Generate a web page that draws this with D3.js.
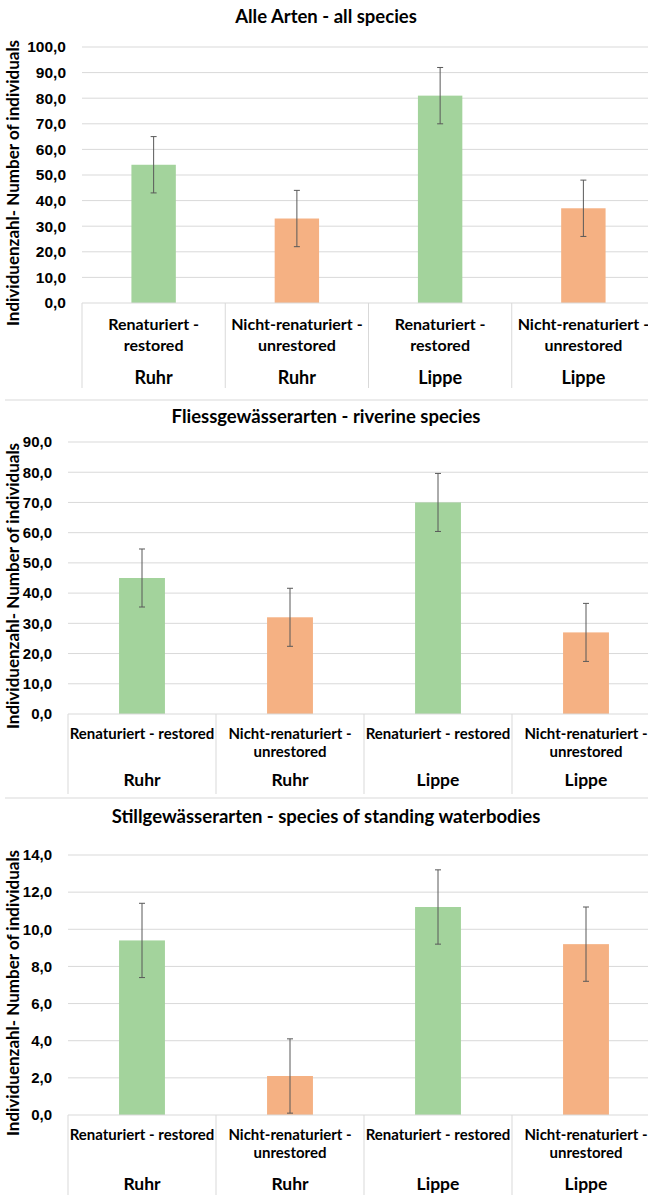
<!DOCTYPE html>
<html>
<head>
<meta charset="utf-8">
<script src="https://cdn.jsdelivr.net/npm/d3@7"></script>
<style>
  body { margin: 0; background: #fff; }
  svg { display: block; font-family: Lato, "Open Sans", sans-serif; font-weight: bold; }
</style>
</head>
<body>
<svg id="chart" width="648" height="1198"></svg>
<script>
// categories (two-level axis)
const treatments = ["Renaturiert - restored", "Nicht-renaturiert - unrestored", "Renaturiert - restored", "Nicht-renaturiert - unrestored"];
const rivers = ["Ruhr", "Ruhr", "Lippe", "Lippe"];
const treatmentKind = ["restored", "unrestored", "restored", "unrestored"];

// series values + error bar half widths
const allValues = [54, 33, 81, 37];
const allErrors = [11, 11, 11, 11];
const riverineValues = [45, 32, 70, 27];
const riverineErrors = [9.6, 9.6, 9.6, 9.6];
const standingValues = [9.4, 2.1, 11.2, 9.2];
const standingErrors = [2, 2, 2, 2];

// tick labels
const allTicks = [0, 10, 20, 30, 40, 50, 60, 70, 80, 90, 100];
const riverineTicks = [0, 10, 20, 30, 40, 50, 60, 70, 80, 90];
const standingTicks = [0, 2, 4, 6, 8, 10, 12, 14];

const titles = ["Alle Arten - all species", "Fliessgewässerarten - riverine species", "Stillgewässerarten - species of standing waterbodies"];
const yTitle = "Individuenzahl- Number of individuals";

const COLORS = { restored: "#a3d39c", unrestored: "#f5b183" };
const GRID = "#d9d9d9";
const fmt = v => v.toFixed(1).replace(".", ",");

const svg = d3.select("#chart");

const panels = [
  { title: titles[0], values: allValues, errors: allErrors, ticks: allTicks,
    titleY: 18, top: 47, axisY: 303, left: 82, right: 655,
    tickFont: 15.5, labelFont: 16, groupFont: 18, lineH: 21, line1: 23, groupDy: 76, sepBottom: 388, wrapW: 128 },
  { title: titles[1], values: riverineValues, errors: riverineErrors, ticks: riverineTicks,
    titleY: 418, top: 442, axisY: 714, left: 68, right: 660,
    tickFont: 15, labelFont: 15, groupFont: 17.5, lineH: 18.5, line1: 20.5, groupDy: 68, sepBottom: 794, wrapW: 152 },
  { title: titles[2], values: standingValues, errors: standingErrors, ticks: standingTicks,
    titleY: 818, top: 855, axisY: 1115, left: 68, right: 660,
    tickFont: 15, labelFont: 15, groupFont: 17.5, lineH: 18.5, line1: 20.7, groupDy: 70.5, sepBottom: 1195, wrapW: 152 }
];

// dividers between the three charts
[400, 798].forEach(function (y) {
  svg.append("line").attr("x1", 5).attr("x2", 648).attr("y1", y).attr("y2", y)
    .attr("stroke", GRID).attr("stroke-width", 1.2);
});

// split on spaces but keep a lone "-" glued to the word before it
function tokens(text) {
  var out = [];
  text.split(" ").forEach(function (w) {
    if (w === "-" && out.length) out[out.length - 1] += " -";
    else out.push(w);
  });
  return out;
}

function wrapLines(text, maxW, fontSize) {
  var probe = svg.append("text").attr("font-size", fontSize);
  var lines = [], cur = "";
  tokens(text).forEach(function (w) {
    var test = cur ? cur + " " + w : w;
    probe.text(test);
    if (cur && probe.node().getComputedTextLength() > maxW) {
      lines.push(cur);
      cur = w;
    } else {
      cur = test;
    }
  });
  lines.push(cur);
  probe.remove();
  return lines;
}

panels.forEach(function (p) {
  var g = svg.append("g");
  var idx = d3.range(treatments.length);
  var yMax = p.ticks[p.ticks.length - 1];

  var y = d3.scaleLinear().domain([0, yMax]).range([p.axisY, p.top]);
  var cell = d3.scaleBand().domain(idx).range([p.left, p.right]).padding(0);
  var x = d3.scaleBand().domain(idx).range([p.left, p.right]).paddingInner(0.69).paddingOuter(0.345);

  // title
  g.append("text")
    .attr("x", 326).attr("y", p.titleY)
    .attr("text-anchor", "middle").attr("dominant-baseline", "middle")
    .attr("font-size", 18.5).attr("fill", "#000")
    .text(p.title);

  // gridlines
  g.append("g").selectAll("line").data(p.ticks.slice(1)).join("line")
    .attr("x1", p.left).attr("x2", 648)
    .attr("y1", d => y(d)).attr("y2", d => y(d))
    .attr("stroke", GRID).attr("stroke-width", 1);

  // y axis labels
  var yAxis = d3.axisLeft(y).tickValues(p.ticks).tickFormat(fmt).tickSize(0).tickPadding(16);
  var ya = g.append("g").attr("transform", "translate(" + p.left + ",0)").call(yAxis);
  ya.select(".domain").remove();
  ya.selectAll("text").attr("font-size", p.tickFont).attr("font-family", null).attr("fill", "#000");

  // y title
  g.append("text")
    .attr("transform", "translate(15," + ((p.top + p.axisY) / 2 + 8) + ") rotate(-90)")
    .attr("text-anchor", "middle").attr("dominant-baseline", "middle")
    .attr("font-size", 17).attr("fill", "#000")
    .text(yTitle);

  // bars
  g.append("g").selectAll("rect").data(idx).join("rect")
    .attr("x", d => x(d)).attr("width", x.bandwidth())
    .attr("y", d => y(p.values[d])).attr("height", d => p.axisY - y(p.values[d]))
    .attr("fill", d => COLORS[treatmentKind[d]]);

  // error bars
  var eb = g.append("g").attr("stroke", "#595959").attr("stroke-width", 1);
  idx.forEach(function (d) {
    var cx = x(d) + x.bandwidth() / 2;
    var lo = y(p.values[d] - p.errors[d]), hi = y(p.values[d] + p.errors[d]);
    eb.append("line").attr("x1", cx).attr("x2", cx).attr("y1", lo).attr("y2", hi);
    eb.append("line").attr("x1", cx - 3).attr("x2", cx + 3).attr("y1", lo).attr("y2", lo);
    eb.append("line").attr("x1", cx - 3).attr("x2", cx + 3).attr("y1", hi).attr("y2", hi);
  });

  // category axis line
  g.append("line").attr("x1", p.left).attr("x2", 648)
    .attr("y1", p.axisY).attr("y2", p.axisY)
    .attr("stroke", GRID).attr("stroke-width", 1.2);

  // category separators
  g.append("g").selectAll("line").data(idx).join("line")
    .attr("x1", d => cell(d)).attr("x2", d => cell(d))
    .attr("y1", p.axisY).attr("y2", p.sepBottom)
    .attr("stroke", GRID).attr("stroke-width", 1);

  // category labels (level 1, wrapped)
  idx.forEach(function (d) {
    var cx = cell(d) + cell.bandwidth() / 2;
    var lines = wrapLines(treatments[d], p.wrapW, p.labelFont);
    var t = g.append("text")
      .attr("text-anchor", "middle").attr("dominant-baseline", "middle")
      .attr("font-size", p.labelFont).attr("fill", "#000");
    lines.forEach(function (ln, i) {
      t.append("tspan").attr("x", cx).attr("y", p.axisY + p.line1 + i * p.lineH).text(ln);
    });
    // level 2: river
    g.append("text")
      .attr("x", cx).attr("y", p.axisY + p.groupDy)
      .attr("text-anchor", "middle").attr("dominant-baseline", "middle")
      .attr("font-size", p.groupFont).attr("fill", "#000")
      .text(rivers[d]);
  });
});
</script>
</body>
</html>
